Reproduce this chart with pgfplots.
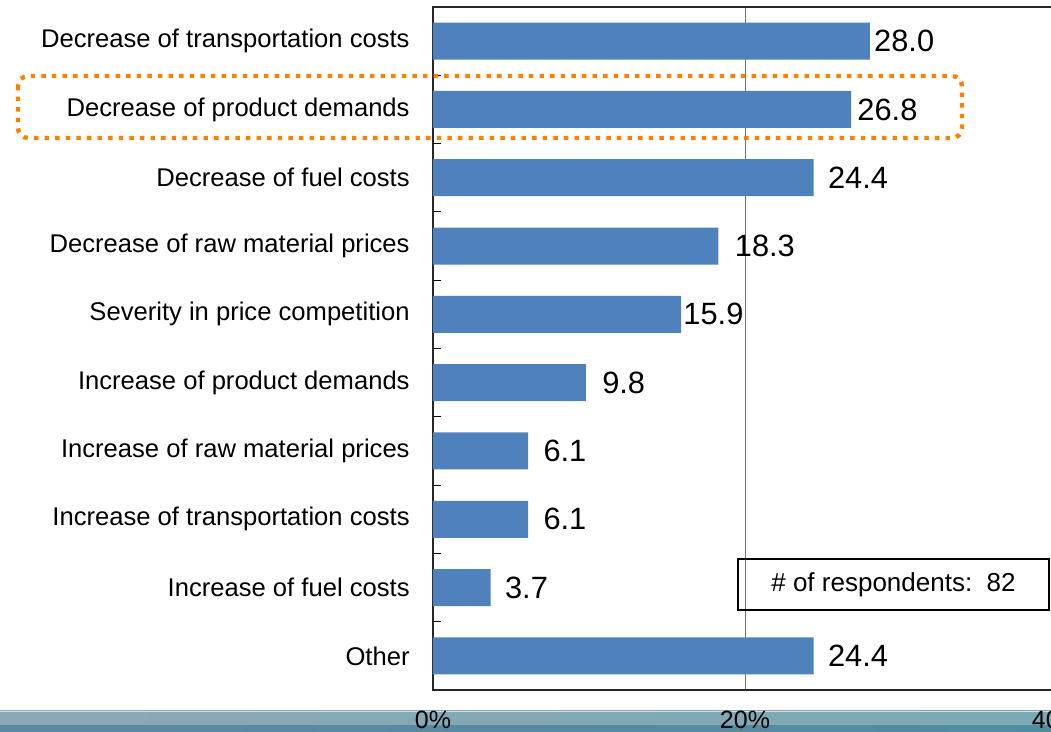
\documentclass[border=0pt]{standalone}
\usepackage{pgfplots}
\pgfplotsset{compat=1.18}
\usepackage{pgfplotstable}
\usepackage{fontspec}
\setmainfont{Liberation Sans}
\definecolor{barblue}{RGB}{79,129,189}
\definecolor{hlorange}{RGB}{255,128,0}
\definecolor{bandTL}{RGB}{140,168,184}
\definecolor{bandTR}{RGB}{122,170,180}
\definecolor{bandBL}{RGB}{95,135,160}
\definecolor{bandBR}{RGB}{80,140,160}
\pgfplotstableread{
i v dx
0 28.0 2
1 26.8 3
2 24.4 7
3 18.3 8
4 15.9 1
5 9.8 8
6 6.1 7.5
7 6.1 7.5
8 3.7 7
9 24.4 7
}\datatable
\begin{document}
\begin{tikzpicture}
\begin{scope}[x=0.5pt,y=-0.5pt]
\shade[left color=bandTL,right color=bandTR] (0,711) rectangle (1051,726);
\shade[left color=bandBL,right color=bandBR] (0,726) rectangle (1051,732);
\draw[color=white!60!bandTL,line width=0.6pt] (0,711.3)--(1051,711.3);
\end{scope}
\begin{axis}[
  at={(216.5pt,-345pt)}, anchor=south west,
  scale only axis, width=312pt, height=341.5pt,
  xmin=0, xmax=40, ymin=-0.5, ymax=9.5, y dir=reverse,
  xbar, bar width=18.5pt,
  axis line style={black!85, line width=0.9pt},
  xtick={0,20,40}, xticklabels={0\%,20\%,40\%},
  xtick pos=bottom, ytick pos=left,
  xmajorgrids, grid style={black!55, line width=0.5pt},
  major tick length=0pt, minor tick length=4pt, tick align=inside,
  ytick={0,...,9},
  minor ytick={0.5,1.5,...,8.5},
  minor y tick style={black, line width=0.6pt},
  yticklabels={Decrease of transportation costs,Decrease of product demands,Decrease of fuel costs,Decrease of raw material prices,Severity in price competition,Increase of product demands,Increase of raw material prices,Increase of transportation costs,Increase of fuel costs,Other},
  yticklabel style={font=\fontsize{12.8}{14}\selectfont, inner sep=0pt, anchor=east, xshift=-11.5pt},
  xticklabel style={font=\fontsize{12.5}{14}\selectfont, inner sep=0pt, anchor=north, yshift=-10.5pt},
  /pgf/number format/assume math mode=true,
  point meta=x,
  visualization depends on={\thisrow{dx} \as \dx},
  nodes near coords={\pgfmathprintnumber[fixed,fixed zerofill,precision=1,assume math mode=true]{\pgfplotspointmeta}},
  nodes near coords style={anchor=west, inner sep=0pt, xshift=\dx pt, font=\fontsize{15.4}{17}\selectfont, text=black},
  clip=false,
]
\addplot[fill=barblue, draw=none] table[x=v, y=i] {\datatable};
\end{axis}
\begin{scope}[x=0.5pt,y=-0.5pt]
\node[draw=black, line width=1pt, minimum width=155.5pt, minimum height=25.5pt, inner sep=0pt, font=\fontsize{13}{15}\selectfont] at (893.5,584.5) {\#~of respondents:~~82};
\draw[hlorange, line width=2.2pt, dash pattern=on 2.2pt off 3.1pt, rounded corners=5pt] (18,76) rectangle (962,138);
\end{scope}
\pgfresetboundingbox
\path[use as bounding box] (0,0) rectangle (525.5pt,-366pt);
\end{tikzpicture}
\end{document}
